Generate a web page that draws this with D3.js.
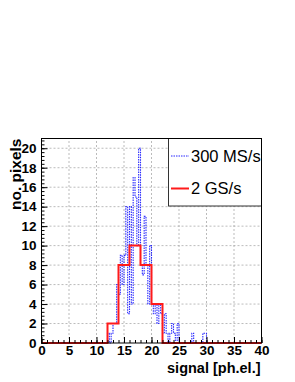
<!DOCTYPE html>
<html>
<head>
<meta charset="utf-8">
<script src="https://cdn.jsdelivr.net/npm/d3@7.9.0/dist/d3.min.js"></script>
<style>
  html, body { margin: 0; padding: 0; background: #fff; }
  svg { display: block; }
  text { font-family: "Liberation Sans", Arial, Helvetica, sans-serif; }
</style>
</head>
<body>
<svg id="chart" width="295" height="382"></svg>
<script>
// ---- data ----
const xTicks = [0, 5, 10, 15, 20, 25, 30, 35, 40];
const yTicks = [0, 2, 4, 6, 8, 10, 12, 14, 16, 18, 20];

// 2 GS/s : bins of width 2 from 0 to 40
const redEdges = [0, 2, 4, 6, 8, 10, 12, 14, 16, 18, 20, 22, 24, 26, 28, 30, 32, 34, 36, 38, 40];
const redCounts = [0, 0, 0, 0, 0, 0, 2, 8, 10, 8, 4, 0, 0, 0, 0, 0, 0, 0, 0, 0];

// 300 MS/s : narrow bins (1/3 ph.el.) starting at 12, zero elsewhere
const blueStart = 12;
const blueWidth = 1 / 3;
const blueCounts = [
  1, 0, 1, 2, 2, 6, 5, 9, 6, 9,
  14, 3, 14, 4, 17, 15, 10, 20, 8, 7,
  13, 8, 4, 10, 4, 3, 4, 2, 4, 3,
  1, 3, 1, 0, 1, 2, 1, 0, 2, 0,
  0, 0, 0, 0, 0, 0, 1, 0, 0, 0,
  0, 0, 1, 1, 0, 0, 0
];

const legendItems = [
  { label: "300 MS/s", color: "#2626ff", dash: "1.5,1", width: 1 },
  { label: "2 GS/s", color: "#ff1a1a", dash: null, width: 2 }
];

// ---- layout ----
const svg = d3.select("#chart");
const x = d3.scaleLinear().domain([0, 40]).range([41.5, 261.5]);
const y = d3.scaleLinear().domain([0, 21]).range([343, 138.5]);

// grid
const grid = svg.append("g").attr("stroke", "#aaa").attr("stroke-dasharray", "2,2").attr("stroke-width", 0.8);
xTicks.slice(1, -1).forEach(v => {
  grid.append("line").attr("x1", x(v)).attr("x2", x(v)).attr("y1", y(0)).attr("y2", y(21));
});
yTicks.slice(1).forEach(v => {
  grid.append("line").attr("x1", x(0)).attr("x2", x(40)).attr("y1", y(v)).attr("y2", y(v));
});

// blue histogram outline
const bluePts = [[0, 0]];
blueCounts.forEach((c, i) => bluePts.push([blueStart + i * blueWidth, c]));
bluePts.push([blueStart + blueCounts.length * blueWidth, 0]);
bluePts.push([40, 0]);
const step = d3.line().x(d => x(d[0])).y(d => y(d[1])).curve(d3.curveStepAfter);
svg.append("path")
  .attr("d", step(bluePts))
  .attr("fill", "none")
  .attr("stroke", legendItems[0].color)
  .attr("stroke-width", 1.1)
  .attr("stroke-dasharray", legendItems[0].dash);

// red histogram outline
const redPts = redCounts.map((c, i) => [redEdges[i], c]);
redPts.push([40, redCounts[redCounts.length - 1]]);
svg.append("path")
  .attr("d", step(redPts))
  .attr("fill", "none")
  .attr("stroke", legendItems[1].color)
  .attr("stroke-width", 2);

// axes (ticks point inside, like ROOT)
const fmt = d3.format("d");
svg.append("g").attr("transform", `translate(${x(0)},0)`)
  .call(d3.axisLeft(y).tickValues(yTicks).tickSize(-6).tickPadding(5).tickFormat(fmt));
svg.append("g").attr("transform", `translate(${x(0)},0)`)
  .call(d3.axisLeft(y).tickValues(d3.range(0, 21.01, 0.4)).tickSize(-3).tickFormat(""));
svg.append("g").attr("transform", `translate(0,${y(0)})`)
  .call(d3.axisBottom(x).tickValues(xTicks).tickSize(-6).tickPadding(2).tickFormat(fmt));
svg.append("g").attr("transform", `translate(0,${y(0)})`)
  .call(d3.axisBottom(x).tickValues(d3.range(0, 40.01, 1)).tickSize(-3).tickFormat(""));

svg.selectAll(".domain").remove();
svg.selectAll(".tick line").attr("stroke", "#000").attr("stroke-width", 1);
svg.selectAll(".tick text")
  .attr("font-family", "'Liberation Sans', Arial, sans-serif")
  .attr("font-size", 13.5)
  .attr("font-weight", "bold")
  .attr("fill", "#000");

// legend
const lg = svg.append("g");
lg.append("rect")
  .attr("x", 168.5).attr("y", 138.5).attr("width", 93).attr("height", 67.5)
  .attr("fill", "#fff").attr("stroke", "#333").attr("stroke-width", 1);
legendItems.forEach((d, i) => {
  const ly = 156 + i * 32.5;
  lg.append("line")
    .attr("x1", 171).attr("x2", 189).attr("y1", ly).attr("y2", ly)
    .attr("stroke", d.color).attr("stroke-width", d.width)
    .attr("stroke-dasharray", d.dash);
  lg.append("text")
    .attr("x", 191).attr("y", ly + 5.5)
    .attr("font-size", 16.5)
    .attr("fill", "#000")
    .text(d.label);
});

// frame
svg.append("rect")
  .attr("x", x(0)).attr("y", y(21)).attr("width", x(40) - x(0)).attr("height", y(0) - y(21))
  .attr("fill", "none").attr("stroke", "#000").attr("stroke-width", 1);

// axis titles
svg.append("text")
  .attr("x", x(40) - 1).attr("y", 373)
  .attr("text-anchor", "end")
  .attr("font-size", 14.5)
  .attr("font-weight", "bold")
  .text("signal [ph.el.]");
svg.append("text")
  .attr("transform", `translate(21,${y(21)}) rotate(-90)`)
  .attr("text-anchor", "end")
  .attr("font-size", 15.5)
  .attr("font-weight", "bold")
  .text("no. pixels");
</script>
</body>
</html>
